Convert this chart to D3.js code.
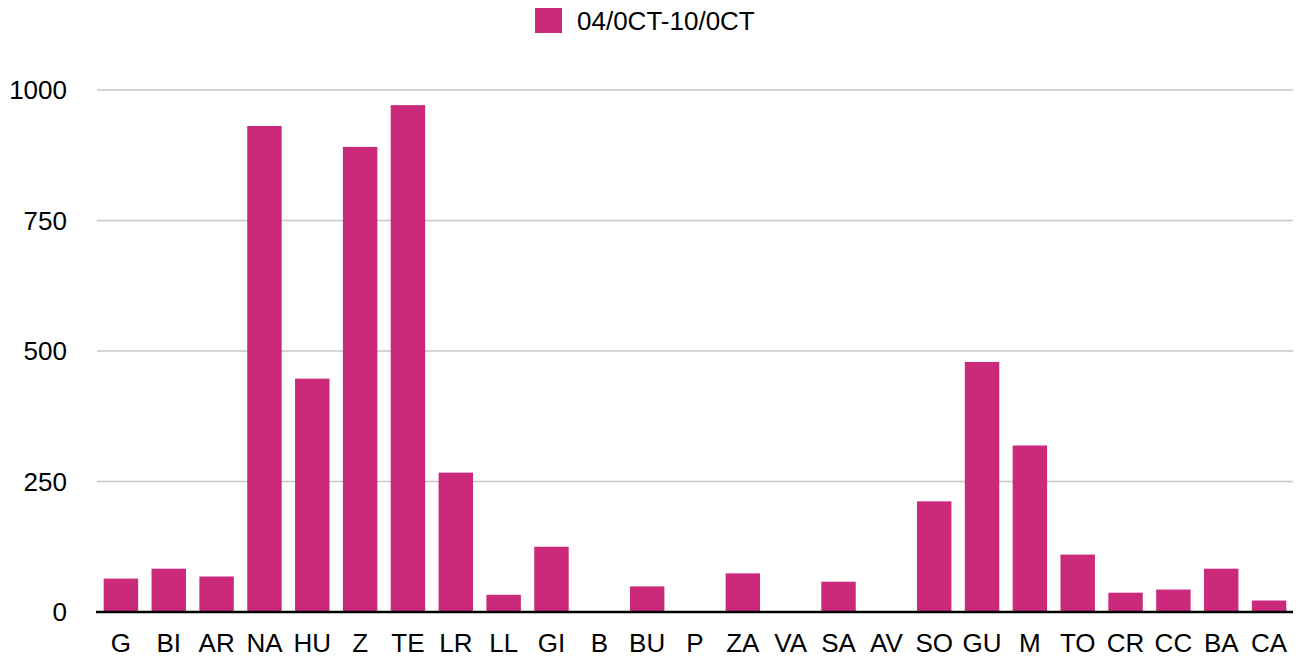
<!DOCTYPE html>
<html>
<head>
<meta charset="utf-8">
<script src="https://cdn.jsdelivr.net/npm/d3@7"></script>
<style>
  body { margin: 0; background: #fff; }
  text { font-family: "Liberation Sans", Arial, Helvetica, sans-serif; fill: #000; }
</style>
</head>
<body>
<div id="chart"></div>
<script>
const seriesName = '04/0CT-10/0CT';
const categories = ['G', 'BI', 'AR', 'NA', 'HU', 'Z', 'TE', 'LR', 'LL', 'GI', 'B', 'BU', 'P',
  'ZA', 'VA', 'SA', 'AV', 'SO', 'GU', 'M', 'TO', 'CR', 'CC', 'BA', 'CA'];
const values = [64, 83, 68, 931, 447, 891, 971, 267, 33, 125, 0, 49, 0,
  74, 0, 58, 0, 212, 479, 319, 110, 37, 43, 83, 22];
const yTicks = [0, 250, 500, 750, 1000];

const W = 1301, H = 659;
const margin = { top: 90, right: 8, bottom: 47, left: 97 };
const width = W - margin.left - margin.right;
const height = H - margin.top - margin.bottom;
const barColor = '#cb2a7b';
const fontSize = 26;

const svgdocument = d3.select('#chart').append('svg')
  .attr('width', W)
  .attr('height', H);

const svg = svgdocument.append('g')
  .attr('transform', `translate(${margin.left}, ${margin.top})`);

let x = d3.scaleBand().domain(categories).range([0, width]).paddingInner(0.28).paddingOuter(0.14);
let y = d3.scaleLinear().domain([0, 1000]).range([height, 0]);

// gridlines
svg.append('g')
  .selectAll('line')
  .data(yTicks.filter(d => d > 0))
  .join('line')
  .attr('x1', 0)
  .attr('x2', width)
  .attr('y1', d => y(d))
  .attr('y2', d => y(d))
  .attr('stroke', '#c6c6c6')
  .attr('stroke-width', 1.5);

// y labels
svg.append('g')
  .selectAll('text')
  .data(yTicks)
  .join('text')
  .attr('x', -30)
  .attr('y', d => y(d))
  .attr('dy', '0.36em')
  .attr('text-anchor', 'end')
  .attr('font-size', fontSize)
  .text(d => d);

// bars
svg.append('g')
  .selectAll('rect')
  .data(categories)
  .join('rect')
  .attr('x', d => x(d))
  .attr('width', x.bandwidth())
  .attr('y', (d, i) => y(values[i]))
  .attr('height', (d, i) => height - y(values[i]))
  .attr('fill', barColor);

// baseline
svg.append('line')
  .attr('x1', -1)
  .attr('x2', width)
  .attr('y1', y(0))
  .attr('y2', y(0))
  .attr('stroke', '#000')
  .attr('stroke-width', 2.5);

// x labels
let xAxis = d3.axisBottom(x).tickSize(0).tickPadding(0);
const xg = svg.append('g').attr('transform', `translate(0, ${height})`).call(xAxis);
xg.select('.domain').remove();
xg.selectAll('text')
  .attr('y', 40)
  .attr('dy', 0)
  .attr('font-size', fontSize)
  .attr('font-family', '"Liberation Sans", Arial, sans-serif')
  .attr('fill', '#000');

// legend
const legend = svgdocument.append('g').attr('transform', 'translate(535, 8)');
legend.append('rect')
  .attr('width', 27)
  .attr('height', 25)
  .attr('fill', barColor);
legend.append('text')
  .attr('x', 42)
  .attr('y', 12.5)
  .attr('dy', '0.36em')
  .attr('font-size', fontSize)
  .text(seriesName);
</script>
</body>
</html>
